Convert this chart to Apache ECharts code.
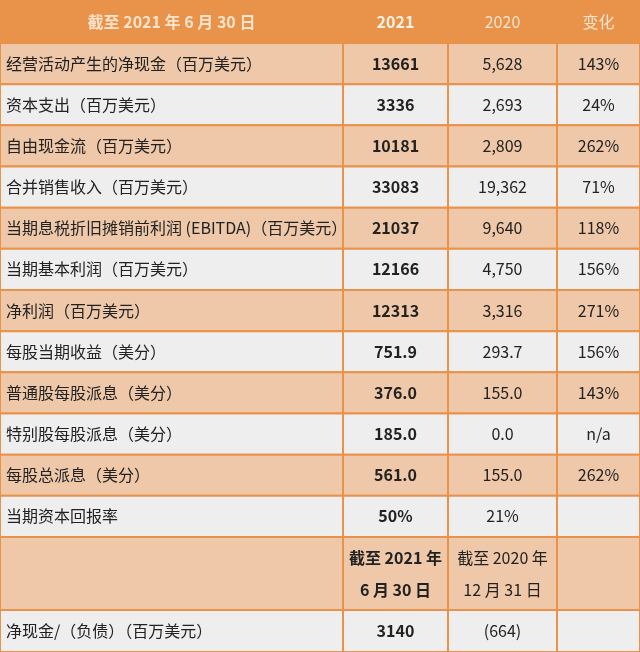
<!DOCTYPE html><html><head><meta charset="utf-8"><script src="https://cdn.jsdelivr.net/npm/echarts@6/dist/echarts.min.js"></script>
<style>html,body{margin:0;padding:0;background:#fff}#c{width:640px;height:652px}</style></head><body><div id="c"></div><script>
const headers=['截至 2021 年 6 月 30 日','2021','2020','变化'];
const items=['经营活动产生的净现金（百万美元）','资本支出（百万美元）','自由现金流（百万美元）','合并销售收入（百万美元）','当期息税折旧摊销前利润 (EBITDA)（百万美元）','当期基本利润（百万美元）','净利润（百万美元）','每股当期收益（美分）','普通股每股派息（美分）','特别股每股派息（美分）','每股总派息（美分）','当期资本回报率','','净现金/（负债）（百万美元）'];
const v2021=['13661','3336','10181','33083','21037','12166','12313','751.9','376.0','185.0','561.0','50%','截至 2021 年\n6 月 30 日','3140'];
const v2020=['5,628','2,693','2,809','19,362','9,640','4,750','3,316','293.7','155.0','0.0','155.0','21%','截至 2020 年\n12 月 31 日','(664)'];
const change=['143%','24%','262%','71%','118%','156%','271%','156%','143%','n/a','262%','','',''];
const colX=[0,343,448,557,640];
const rowY=[0,43];for(let i=1;i<=12;i++)rowY.push(43+i*(494/12));rowY.push(610,652);
const data=[];
headers.forEach((h,c)=>data.push([c,0,h]));
[items,v2021,v2020,change].forEach((arr,c)=>arr.forEach((t,r)=>data.push([c,r+1,t])));
const chart=echarts.init(document.getElementById('c'));
chart.setOption({animation:false,
grid:{left:0,right:0,top:0,bottom:0},
xAxis:{type:'value',min:0,max:640,show:false},
yAxis:{type:'value',min:0,max:652,inverse:true,show:false},
series:[{type:'custom',data:data,renderItem:function(p,api){
 const c=api.value(0),r=api.value(1),t=data[p.dataIndex][2];
 const a=api.coord([colX[c],rowY[r]]),b=api.coord([colX[c+1],rowY[r+1]]);
 const header=r===0, peach=r>0&&(r%2===1);
 const fill=header?'#E8924A':(peach?'#EEC8A9':'#EEEEEE');
 const txtCol=header?(c===1?'#FFF1E4':'#FBE3CE'):'#222';
 const bold=(c===1)||(header&&c===0);
 const left=c===0&&!header;
 return {type:'group',children:[
  {type:'rect',shape:{x:a[0],y:a[1],width:b[0]-a[0],height:b[1]-a[1]},style:{fill:fill,stroke:'#E8924A',lineWidth:header?0:2}},
  {type:'text',style:{text:t,x:left?a[0]+6:(a[0]+b[0])/2,y:(a[1]+b[1])/2,align:left?'left':'center',verticalAlign:'middle',fill:txtCol,font:(bold?'bold ':'')+'16px "Noto Sans CJK SC", sans-serif',lineHeight:32}}
 ]};
}}]});
</script></body></html>
